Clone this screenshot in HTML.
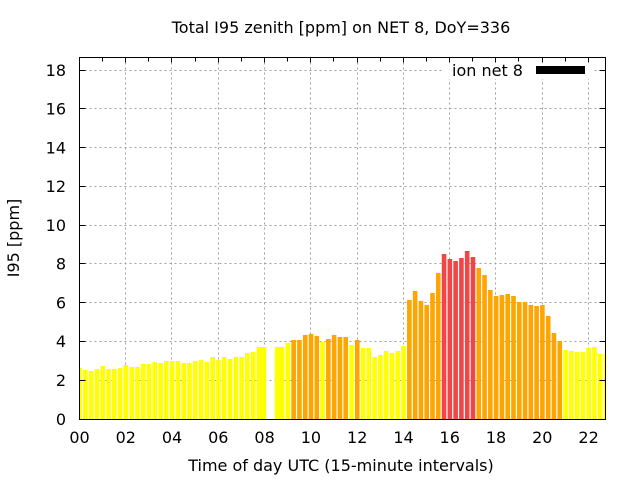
<!DOCTYPE html>
<html><head><meta charset="utf-8"><style>
html,body{margin:0;padding:0;background:#fff;}
svg{display:block;}
text{font-family:"DejaVu Sans","Liberation Sans",sans-serif;font-size:16px;fill:#000;}
</style></head><body>
<svg width="640" height="480" viewBox="0 0 640 480" xmlns="http://www.w3.org/2000/svg">
<rect x="0" y="0" width="640" height="480" fill="#fff"/>
<defs><clipPath id="pa"><rect x="79.5" y="57.5" width="526" height="362"/></clipPath></defs>
<g stroke="#a0a0a0" stroke-width="1" stroke-dasharray="2,3" fill="none">
<line x1="79.5" y1="380.5" x2="605.5" y2="380.5"/>
<line x1="79.5" y1="341.5" x2="605.5" y2="341.5"/>
<line x1="79.5" y1="302.5" x2="605.5" y2="302.5"/>
<line x1="79.5" y1="263.5" x2="605.5" y2="263.5"/>
<line x1="79.5" y1="225.5" x2="605.5" y2="225.5"/>
<line x1="79.5" y1="186.5" x2="605.5" y2="186.5"/>
<line x1="79.5" y1="147.5" x2="605.5" y2="147.5"/>
<line x1="79.5" y1="108.5" x2="605.5" y2="108.5"/>
<line x1="79.5" y1="70.5" x2="605.5" y2="70.5"/>
<line x1="125.5" y1="57.5" x2="125.5" y2="419.5"/>
<line x1="171.5" y1="57.5" x2="171.5" y2="419.5"/>
<line x1="218.5" y1="57.5" x2="218.5" y2="419.5"/>
<line x1="264.5" y1="57.5" x2="264.5" y2="419.5"/>
<line x1="310.5" y1="57.5" x2="310.5" y2="419.5"/>
<line x1="357.5" y1="57.5" x2="357.5" y2="419.5"/>
<line x1="403.5" y1="57.5" x2="403.5" y2="419.5"/>
<line x1="449.5" y1="57.5" x2="449.5" y2="419.5"/>
<line x1="495.5" y1="57.5" x2="495.5" y2="419.5"/>
<line x1="542.5" y1="57.5" x2="542.5" y2="419.5"/>
<line x1="588.5" y1="57.5" x2="588.5" y2="419.5"/>
</g>
<g clip-path="url(#pa)">
<g fill="#ffff00">
<rect x="77.3" y="368" width="4.6" height="51"/>
<rect x="83.09" y="370" width="4.6" height="49"/>
<rect x="88.87" y="371" width="4.6" height="48"/>
<rect x="94.66" y="369" width="4.6" height="50"/>
<rect x="100.44" y="366" width="4.6" height="53"/>
<rect x="106.23" y="369" width="4.6" height="50"/>
<rect x="112.01" y="369" width="4.6" height="50"/>
<rect x="117.80" y="368" width="4.6" height="51"/>
<rect x="123.58" y="365" width="4.6" height="54"/>
<rect x="129.37" y="367" width="4.6" height="52"/>
<rect x="135.15" y="367" width="4.6" height="52"/>
<rect x="140.94" y="364" width="4.6" height="55"/>
<rect x="146.72" y="364" width="4.6" height="55"/>
<rect x="152.51" y="362" width="4.6" height="57"/>
<rect x="158.29" y="363" width="4.6" height="56"/>
<rect x="164.08" y="361" width="4.6" height="58"/>
<rect x="169.86" y="361" width="4.6" height="58"/>
<rect x="175.65" y="361" width="4.6" height="58"/>
<rect x="181.43" y="363" width="4.6" height="56"/>
<rect x="187.22" y="363" width="4.6" height="56"/>
<rect x="193.00" y="361" width="4.6" height="58"/>
<rect x="198.79" y="360" width="4.6" height="59"/>
<rect x="204.57" y="362" width="4.6" height="57"/>
<rect x="210.36" y="357" width="4.6" height="62"/>
<rect x="216.14" y="360" width="4.6" height="59"/>
<rect x="221.93" y="357" width="4.6" height="62"/>
<rect x="227.71" y="359" width="4.6" height="60"/>
<rect x="233.50" y="357" width="4.6" height="62"/>
<rect x="239.28" y="357" width="4.6" height="62"/>
<rect x="245.07" y="353" width="4.6" height="66"/>
<rect x="250.85" y="352" width="4.6" height="67"/>
<rect x="256.64" y="347" width="9.6" height="72"/>
<rect x="274.8" y="347" width="9.6" height="72"/>
<rect x="285.56" y="343" width="4.6" height="76"/>
<rect x="320.27" y="342" width="4.6" height="77"/>
<rect x="349.20" y="345" width="4.6" height="74"/>
<rect x="360.77" y="348" width="4.6" height="71"/>
<rect x="366.55" y="348" width="4.6" height="71"/>
<rect x="372.34" y="357" width="4.6" height="62"/>
<rect x="378.12" y="355" width="4.6" height="64"/>
<rect x="383.91" y="351" width="4.6" height="68"/>
<rect x="389.69" y="353" width="4.6" height="66"/>
<rect x="395.48" y="351" width="4.6" height="68"/>
<rect x="401.26" y="346" width="4.6" height="73"/>
<rect x="563.24" y="350" width="4.6" height="69"/>
<rect x="569.03" y="351" width="4.6" height="68"/>
<rect x="574.81" y="352" width="4.6" height="67"/>
<rect x="580.60" y="352" width="4.6" height="67"/>
<rect x="586.38" y="348" width="4.6" height="71"/>
<rect x="592.17" y="347" width="4.6" height="72"/>
<rect x="597.95" y="354" width="4.6" height="65"/>
<rect x="603.74" y="354" width="4.6" height="65"/>
</g>
<g fill="#ffa500">
<rect x="291.35" y="340" width="4.6" height="79"/>
<rect x="297.13" y="340" width="4.6" height="79"/>
<rect x="302.92" y="335" width="4.6" height="84"/>
<rect x="308.70" y="334" width="4.6" height="85"/>
<rect x="314.49" y="336" width="4.6" height="83"/>
<rect x="326.06" y="339" width="4.6" height="80"/>
<rect x="331.84" y="335" width="4.6" height="84"/>
<rect x="337.63" y="337" width="4.6" height="82"/>
<rect x="343.41" y="337" width="4.6" height="82"/>
<rect x="354.98" y="340" width="4.6" height="79"/>
<rect x="407.05" y="300" width="4.6" height="119"/>
<rect x="412.83" y="291" width="4.6" height="128"/>
<rect x="418.62" y="301" width="4.6" height="118"/>
<rect x="424.40" y="305" width="4.6" height="114"/>
<rect x="430.19" y="293" width="4.6" height="126"/>
<rect x="435.97" y="273" width="4.6" height="146"/>
<rect x="476.47" y="268" width="4.6" height="151"/>
<rect x="482.25" y="275" width="4.6" height="144"/>
<rect x="488.04" y="290" width="4.6" height="129"/>
<rect x="493.82" y="296" width="4.6" height="123"/>
<rect x="499.61" y="295" width="4.6" height="124"/>
<rect x="505.39" y="294" width="4.6" height="125"/>
<rect x="511.18" y="296" width="4.6" height="123"/>
<rect x="516.96" y="302" width="4.6" height="117"/>
<rect x="522.75" y="302" width="4.6" height="117"/>
<rect x="528.53" y="305" width="4.6" height="114"/>
<rect x="534.32" y="306" width="4.6" height="113"/>
<rect x="540.10" y="305" width="4.6" height="114"/>
<rect x="545.89" y="316" width="4.6" height="103"/>
<rect x="551.67" y="333" width="4.6" height="86"/>
<rect x="557.46" y="341" width="4.6" height="78"/>
</g>
<g fill="#f04646">
<rect x="441.76" y="254" width="4.6" height="165"/>
<rect x="447.54" y="259" width="4.6" height="160"/>
<rect x="453.33" y="261" width="4.6" height="158"/>
<rect x="459.11" y="258" width="4.6" height="161"/>
<rect x="464.90" y="251" width="4.6" height="168"/>
<rect x="470.68" y="257" width="4.6" height="162"/>
</g>
</g>
<rect x="444" y="61" width="150" height="18" fill="#fff"/>
<g stroke="#000" stroke-width="1">
<line x1="79.5" y1="380.5" x2="85.5" y2="380.5"/><line x1="599.5" y1="380.5" x2="605.5" y2="380.5"/>
<line x1="79.5" y1="341.5" x2="85.5" y2="341.5"/><line x1="599.5" y1="341.5" x2="605.5" y2="341.5"/>
<line x1="79.5" y1="302.5" x2="85.5" y2="302.5"/><line x1="599.5" y1="302.5" x2="605.5" y2="302.5"/>
<line x1="79.5" y1="263.5" x2="85.5" y2="263.5"/><line x1="599.5" y1="263.5" x2="605.5" y2="263.5"/>
<line x1="79.5" y1="225.5" x2="85.5" y2="225.5"/><line x1="599.5" y1="225.5" x2="605.5" y2="225.5"/>
<line x1="79.5" y1="186.5" x2="85.5" y2="186.5"/><line x1="599.5" y1="186.5" x2="605.5" y2="186.5"/>
<line x1="79.5" y1="147.5" x2="85.5" y2="147.5"/><line x1="599.5" y1="147.5" x2="605.5" y2="147.5"/>
<line x1="79.5" y1="108.5" x2="85.5" y2="108.5"/><line x1="599.5" y1="108.5" x2="605.5" y2="108.5"/>
<line x1="79.5" y1="70.5" x2="85.5" y2="70.5"/><line x1="599.5" y1="70.5" x2="605.5" y2="70.5"/>
<line x1="102.5" y1="57.5" x2="102.5" y2="61.5"/>
<line x1="125.5" y1="57.5" x2="125.5" y2="62.5"/>
<line x1="148.5" y1="57.5" x2="148.5" y2="61.5"/>
<line x1="171.5" y1="57.5" x2="171.5" y2="62.5"/>
<line x1="195.5" y1="57.5" x2="195.5" y2="61.5"/>
<line x1="218.5" y1="57.5" x2="218.5" y2="62.5"/>
<line x1="241.5" y1="57.5" x2="241.5" y2="61.5"/>
<line x1="264.5" y1="57.5" x2="264.5" y2="62.5"/>
<line x1="287.5" y1="57.5" x2="287.5" y2="61.5"/>
<line x1="310.5" y1="57.5" x2="310.5" y2="62.5"/>
<line x1="333.5" y1="57.5" x2="333.5" y2="61.5"/>
<line x1="357.5" y1="57.5" x2="357.5" y2="62.5"/>
<line x1="380.5" y1="57.5" x2="380.5" y2="61.5"/>
<line x1="403.5" y1="57.5" x2="403.5" y2="62.5"/>
<line x1="426.5" y1="57.5" x2="426.5" y2="61.5"/>
<line x1="449.5" y1="57.5" x2="449.5" y2="62.5"/>
<line x1="472.5" y1="57.5" x2="472.5" y2="61.5"/>
<line x1="495.5" y1="57.5" x2="495.5" y2="62.5"/>
<line x1="518.5" y1="57.5" x2="518.5" y2="61.5"/>
<line x1="542.5" y1="57.5" x2="542.5" y2="62.5"/>
<line x1="565.5" y1="57.5" x2="565.5" y2="61.5"/>
<line x1="588.5" y1="57.5" x2="588.5" y2="62.5"/>
</g>
<rect x="79.5" y="57.5" width="526" height="362" fill="none" stroke="#000" stroke-width="1"/>
<g text-anchor="end">
<text x="66" y="425">0</text>
<text x="66" y="386">2</text>
<text x="66" y="347.2">4</text>
<text x="66" y="308.5">6</text>
<text x="66" y="269.7">8</text>
<text x="66" y="230.9">10</text>
<text x="66" y="192.1">12</text>
<text x="66" y="153.4">14</text>
<text x="66" y="114.6">16</text>
<text x="66" y="75.8">18</text>
</g>
<g text-anchor="middle">
<text x="79.5" y="443">00</text>
<text x="125.8" y="443">02</text>
<text x="172" y="443">04</text>
<text x="218.3" y="443">06</text>
<text x="264.6" y="443">08</text>
<text x="310.9" y="443">10</text>
<text x="357.2" y="443">12</text>
<text x="403.5" y="443">14</text>
<text x="449.7" y="443">16</text>
<text x="496" y="443">18</text>
<text x="542.3" y="443">20</text>
<text x="588.6" y="443">22</text>
</g>
<text x="452" y="76">ion net 8</text>
<rect x="536" y="66" width="49" height="8" fill="#000"/>
<text x="341" y="33" text-anchor="middle">Total I95 zenith [ppm] on NET 8, DoY=336</text>
<text x="341" y="471" text-anchor="middle">Time of day UTC (15-minute intervals)</text>
<text transform="translate(19,238) rotate(-90)" text-anchor="middle">I95 [ppm]</text>
</svg>
</body></html>
